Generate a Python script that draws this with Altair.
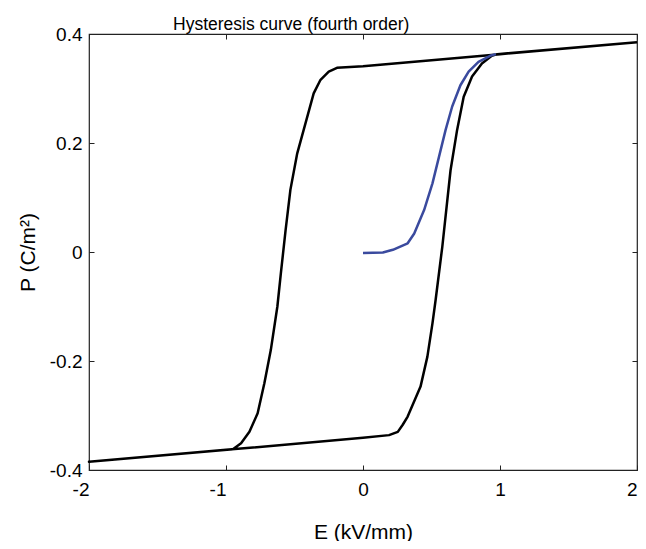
import altair as alt
import pandas as pd

# Descending branch of the loop (E from +2 down to -2)
E_down = [2.0, 1.0, 0.0, -0.19, -0.25, -0.31, -0.36, -0.42, -0.48, -0.53, -0.565,
          -0.60, -0.625, -0.673, -0.72, -0.769, -0.829, -0.89, -0.95, -2.0]
P_down = [0.385, 0.363, 0.341, 0.338, 0.331, 0.316, 0.291, 0.236, 0.181, 0.114, 0.040,
          -0.040, -0.100, -0.180, -0.241, -0.296, -0.330, -0.351, -0.362, -0.385]

# Ascending branch of the loop (E from -2 up to +2)
E_up = [-2.0, -1.0, 0.0, 0.19, 0.254, 0.29, 0.326, 0.42, 0.47, 0.507, 0.53, 0.579,
        0.639, 0.687, 0.735, 0.796, 0.868, 0.94, 0.98, 2.0]
P_up = [-0.385, -0.363, -0.341, -0.336, -0.330, -0.317, -0.302, -0.247, -0.192, -0.131,
        -0.088, 0.010, 0.150, 0.224, 0.285, 0.322, 0.346, 0.360, 0.363, 0.385]

# Initial (virgin) polarization curve
E_init = [0.0, 0.145, 0.218, 0.326, 0.374, 0.446, 0.507, 0.555, 0.603, 0.651,
          0.711, 0.771, 0.843, 0.928, 0.97]
P_init = [-0.002, -0.001, 0.004, 0.016, 0.034, 0.077, 0.126, 0.175, 0.224, 0.267,
          0.306, 0.331, 0.349, 0.360, 0.363]

x_ticks = [-2, -1, 0, 1, 2]
y_ticks = [-0.4, -0.2, 0, 0.2, 0.4]

rows = []
k = 0
for e, p in zip(E_down, P_down):
    rows.append({"E": e, "P": p, "series": "loop", "idx": k}); k += 1
for e, p in zip(E_up, P_up):
    rows.append({"E": e, "P": p, "series": "loop", "idx": k}); k += 1
for i, (e, p) in enumerate(zip(E_init, P_init)):
    rows.append({"E": e, "P": p, "series": "initial", "idx": i})
df = pd.DataFrame(rows)

FONT = "Liberation Sans"
xlab = "datum.value < 0 ? '-' + format(-datum.value, 'd') : format(datum.value, 'd')"
ylab = "datum.value < 0 ? '-' + format(-datum.value, '.1~f') : format(datum.value, '.1~f')"

common = dict(offset=-5, tickSize=5, domain=False, grid=False, tickColor="#222",
              tickWidth=1, labelFont=FONT, labelFontSize=19, labelColor="#000",
              labelFlush=False,
              titleFont=FONT, titleFontSize=21, titleFontWeight="normal", titleColor="#000")

xs = alt.Scale(domain=[-2, 2], nice=False, zero=False)
ys = alt.Scale(domain=[-0.4, 0.4], nice=False, zero=False)

main = alt.Chart(df).mark_line(strokeWidth=2.5, strokeJoin="round").encode(
    x=alt.X("E:Q", scale=xs, axis=alt.Axis(
        orient="bottom", values=x_ticks, labelExpr=xlab, labelPadding=10,
        labelAlign={"condition": {"test": "datum.value < 0 || datum.value >= 2", "value": "right"},
                    "value": "center"},
        title="E (kV/mm)", titlePadding=22, **common)),
    y=alt.Y("P:Q", scale=ys, axis=alt.Axis(
        orient="left", values=y_ticks, labelExpr=ylab, labelPadding=7,
        title="P (C/m²)", titlePadding=11, **common)),
    color=alt.Color("series:N", scale=alt.Scale(domain=["loop", "initial"],
                                                 range=["#000000", "#3a4a9e"]), legend=None),
    strokeWidth=alt.StrokeWidth("series:N", scale=alt.Scale(domain=["loop", "initial"],
                                                             range=[2.6, 2.0]), legend=None),
    order="idx:Q",
    detail="series:N",
)

mirror = alt.Chart(df).mark_line(opacity=0).encode(
    x=alt.X("E:Q", scale=xs, axis=alt.Axis(orient="top", values=x_ticks, labels=False,
                                            title=None, **common)),
    y=alt.Y("P:Q", scale=ys, axis=alt.Axis(orient="right", values=y_ticks, labels=False,
                                            title=None, **common)),
    detail="series:N",
)

chart = alt.layer(main, mirror).resolve_scale(x="independent", y="independent").properties(
    width=548, height=436,
    background="white",
    autosize=alt.AutoSizeParams(type="none"),
    padding={"left": 81, "top": 26, "right": 1, "bottom": 71},
    title=alt.TitleParams("Hysteresis curve (fourth order)", font=FONT, fontSize=17.5,
                          fontWeight="normal", color="#000", anchor="start",
                          frame="group", dx=84, offset=-8),
).configure_view(stroke="#222", strokeWidth=1.2)

chart.save("out.html", embed_options={"renderer": "svg", "actions": False})
